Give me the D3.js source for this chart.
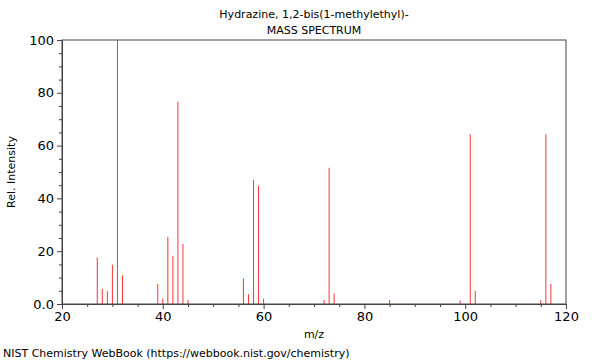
<!DOCTYPE html>
<html>
<head>
<meta charset="utf-8">
<script src="https://cdn.jsdelivr.net/npm/d3@7"></script>
<style>
  body { margin: 0; background: #fff; }
  svg { font-family: "DejaVu Sans", sans-serif; }
</style>
</head>
<body>
<svg id="chart" width="600" height="360"></svg>
<script>
// m/z and relative intensity
const mz = [27, 28, 29, 30, 31, 32, 39, 40, 41, 42, 43, 44, 45,
            56, 57, 58, 59, 60, 72, 73, 74, 85, 99, 101, 102, 115, 116, 117];
const intensity = [17.6, 5.7, 4.8, 14.9, 100, 10.9, 7.6, 2.1, 25.4, 18.2, 76.6, 22.7, 1.5,
                   9.6, 3.7, 47.0, 44.8, 2.0, 1.5, 51.6, 4.0, 1.5, 1.3, 64.3, 4.9, 1.5, 64.3, 7.6];
const xTicks = [20, 40, 60, 80, 100, 120];
const yTicks = [0, 20, 40, 60, 80, 100];
const yTickLabels = ["0.0", "20", "40", "60", "80", "100"];

const margin = { top: 40, right: 34, bottom: 56, left: 62 };
const width = 600 - margin.left - margin.right;
const height = 360 - margin.top - margin.bottom;

const svg = d3.select("#chart");
const g = svg.append("g").attr("transform", `translate(${margin.left},${margin.top})`);

const x = d3.scaleLinear().domain([20, 120]).range([0, width]);
const y = d3.scaleLinear().domain([0, 100]).range([height, 0]);

// peaks
g.selectAll(".peak")
    .data(mz)
    .join("line")
    .attr("class", "peak")
    .attr("x1", d => x(d))
    .attr("x2", d => x(d))
    .attr("y1", y(0))
    .attr("y2", (d, i) => y(intensity[i]))
    .attr("stroke", "#ff3333")
    .attr("stroke-width", 1);

// minor ticks
const minorX = d3.range(20, 121, 5).filter(v => !xTicks.includes(v));
const minorY = d3.range(0, 101, 5).filter(v => !yTicks.includes(v));

const xAxis = g.append("g").attr("transform", `translate(0,${height})`);
xAxis.call(d3.axisBottom(x).tickValues(minorX).tickSize(3).tickFormat(""));
xAxis.call(g2 => g2.select(".domain").remove());
const xAxisMajor = g.append("g").attr("transform", `translate(0,${height})`)
    .call(d3.axisBottom(x).tickValues(xTicks).tickSize(5).tickSizeOuter(0).tickPadding(3));

const yAxis = g.append("g");
yAxis.call(d3.axisLeft(y).tickValues(minorY).tickSize(3).tickFormat(""));
yAxis.call(g2 => g2.select(".domain").remove());
const yAxisMajor = g.append("g")
    .call(d3.axisLeft(y).tickValues(yTicks).tickSize(5).tickSizeOuter(0).tickPadding(3)
        .tickFormat((d, i) => yTickLabels[i]));

svg.selectAll(".tick line").attr("stroke", "#444");
svg.selectAll(".tick text").attr("font-size", 13).attr("fill", "#000")
    .attr("font-family", "DejaVu Sans, sans-serif");

// frame
g.append("rect")
    .attr("x", 0).attr("y", 0)
    .attr("width", width).attr("height", height)
    .attr("fill", "none")
    .attr("stroke", "#444");
g.selectAll(".domain").attr("stroke", "#444");

// titles
svg.append("text")
    .attr("x", 314).attr("y", 18)
    .attr("text-anchor", "middle").attr("font-size", 11)
    .text("Hydrazine, 1,2-bis(1-methylethyl)-");
svg.append("text")
    .attr("x", 314).attr("y", 34)
    .attr("text-anchor", "middle").attr("font-size", 11)
    .text("MASS SPECTRUM");

svg.append("text")
    .attr("x", margin.left + width / 2).attr("y", 338)
    .attr("text-anchor", "middle").attr("font-size", 11)
    .text("m/z");

svg.append("text")
    .attr("transform", `translate(15,${margin.top + height / 2}) rotate(-90)`)
    .attr("text-anchor", "middle").attr("font-size", 11)
    .text("Rel. Intensity");

svg.append("text")
    .attr("x", 3).attr("y", 357)
    .attr("font-size", 11)
    .text("NIST Chemistry WebBook (https://webbook.nist.gov/chemistry)");
</script>
</body>
</html>
